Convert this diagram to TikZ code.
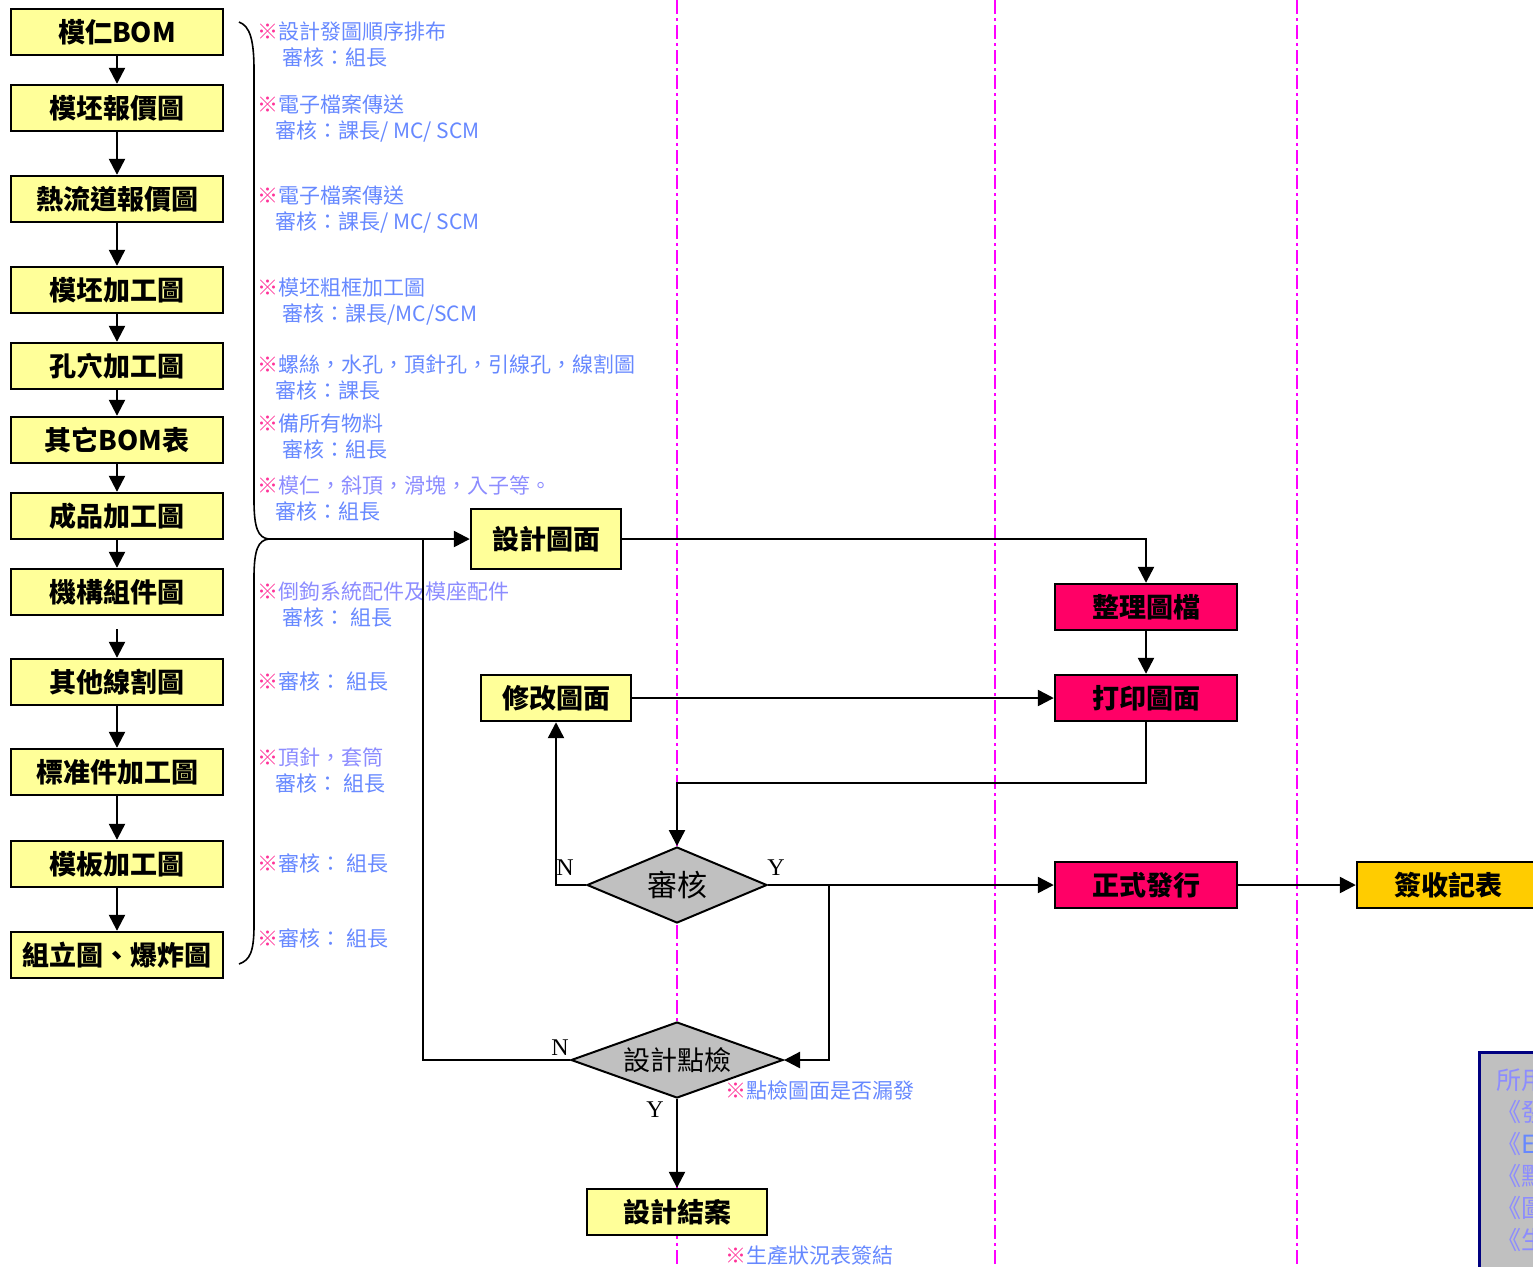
\documentclass[tikz,border=0pt]{standalone}
\usepackage{fontspec}
\setmainfont{Noto Sans CJK TC}
\newfontfamily\ynfont{Liberation Serif}
\usetikzlibrary{arrows.meta,shapes.geometric}
\definecolor{boxyellow}{RGB}{255,255,153}
\definecolor{boxred}{RGB}{255,0,102}
\definecolor{boxgold}{RGB}{255,204,0}
\definecolor{markpink}{RGB}{255,51,153}
\definecolor{noteblue}{RGB}{102,136,255}
\definecolor{notepurple}{RGB}{140,140,255}
\definecolor{lanepink}{RGB}{255,0,255}
\definecolor{formgray}{RGB}{192,192,192}
\definecolor{formnavy}{RGB}{0,0,128}
\newcommand{\mk}{{\color{markpink}※}}
\tikzstyle{listbox}=[draw,line width=1.2pt,fill=boxyellow,minimum width=106pt,minimum height=23pt,inner sep=0pt,font=\bfseries\fontsize{13.5}{15}\selectfont]
\tikzstyle{stagebox}=[listbox,minimum width=75pt]
\tikzstyle{hotbox}=[listbox,fill=boxred,minimum width=91pt]
\tikzstyle{decision}=[diamond,draw,line width=1pt,fill=formgray,inner sep=0pt,aspect=2.37,minimum width=90pt,minimum height=38pt,font=\fontsize{15}{16}\selectfont]
\tikzstyle{note}=[anchor=west,inner sep=0pt,align=left,text=noteblue,font=\fontsize{10.5}{13}\selectfont]
\tikzstyle{lane}=[lanepink,line width=1pt,dash pattern=on 7pt off 2pt on 1.5pt off 2pt]
\tikzstyle{flow}=[line width=1.2pt,-{Triangle[length=8pt,width=8pt]}]
\tikzstyle{link}=[line width=1.2pt]
\tikzstyle{yn}=[inner sep=0pt,font=\ynfont\fontsize{12}{12}\selectfont]

\begin{document}
\begin{tikzpicture}[x=0.5pt,y=-0.5pt]
        \useasboundingbox (0,0) rectangle (1533,1266);
        % swim lanes
        \foreach \lx in {677,995,1297} \draw[lane] (\lx,0) -- (\lx,1266);

        % drawing list
        \node[listbox] (bom) at (117,32) {模仁BOM};
        \node[listbox] (blankquote) at (117,108) {模坯報價圖};
        \node[listbox] (hrquote) at (117,199) {熱流道報價圖};
        \node[listbox] (blankmach) at (117,290) {模坯加工圖};
        \node[listbox] (holemach) at (117,366) {孔穴加工圖};
        \node[listbox] (otherbom) at (117,440) {其它BOM表};
        \node[listbox] (partmach) at (117,516) {成品加工圖};
        \node[listbox] (mechasm) at (117,592) {機構組件圖};
        \node[listbox] (wirecut) at (117,682) {其他線割圖};
        \node[listbox] (stdmach) at (117,772) {標准件加工圖};
        \node[listbox] (platemach) at (117,864) {模板加工圖};
        \node[listbox] (assy) at (117,955) {組立圖、爆炸圖};
        \coordinate (gapstart) at (117,629);
        \draw[flow] (bom) -- (blankquote);
        \draw[flow] (blankquote) -- (hrquote);
        \draw[flow] (hrquote) -- (blankmach);
        \draw[flow] (blankmach) -- (holemach);
        \draw[flow] (holemach) -- (otherbom);
        \draw[flow] (otherbom) -- (partmach);
        \draw[flow] (partmach) -- (mechasm);
        \draw[flow] (gapstart) -- (wirecut);
        \draw[flow] (wirecut) -- (stdmach);
        \draw[flow] (stdmach) -- (platemach);
        \draw[flow] (platemach) -- (assy);

        % notes
        \node[note] (n1) at (257,44) {\mk 設計發圖順序排布\\\hspace*{12.5pt}審核：組長};
        \node[note] (n2) at (257,119) {\mk 電子檔案傳送\\\hspace*{9pt}審核：課長/ MC/ SCM};
        \node[note] (n3) at (257,210) {\mk 電子檔案傳送\\\hspace*{9pt}審核：課長/ MC/ SCM};
        \node[note] (n4) at (257,302) {\mk 模坯粗框加工圖\\\hspace*{12.5pt}審核：課長/MC/SCM};
        \node[note] (n5) at (257,377) {\mk 螺絲，水孔，頂針孔，引線孔，線割圖\\\hspace*{9pt}審核：課長};
        \node[note] (n6) at (257,437) {\mk 備所有物料\\\hspace*{12.5pt}審核：組長};
        \node[note,text=notepurple] (n7) at (257,498) {\mk 模仁，斜頂，滑塊，入子等。\\\hspace*{9pt}{\color{noteblue}審核：組長}};
        \node[note,text=notepurple] (n8) at (257,604) {\mk 倒鉤系統配件及模座配件\\\hspace*{12.5pt}{\color{noteblue}審核： 組長}};
        \node[note] (n9) at (257,681) {\mk 審核： 組長};
        \node[note] (n10) at (257,770) {\mk {\color{notepurple}頂針，套筒}\\\hspace*{9pt}審核： 組長};
        \node[note] (n11) at (257,863) {\mk 審核： 組長};
        \node[note] (n12) at (257,938) {\mk 審核： 組長};
        \node[note] (n13) at (725,1090) {\mk 點檢圖面是否漏發};
        \node[note] (n14) at (725,1256) {\mk 生產狀況表簽結};

        % brace
        \draw[line width=0.8pt] (239,22) .. controls (250,26) and (254,40) .. (254,70) -- (254,500)
              .. controls (254,528) and (258,538) .. (269,539)
              .. controls (258,540) and (254,550) .. (254,578) -- (254,925)
              .. controls (254,952) and (250,960) .. (239,964);
        \coordinate (bracetip) at (269,539);
        \coordinate (loopjoin) at (423,539);
        \coordinate (ysplit) at (829,885);

        % process
        \node[stagebox,minimum height=30pt] (design) at (546,539) {設計圖面};
        \node[hotbox] (sortfile) at (1146,607) {整理圖檔};
        \node[hotbox] (printdwg) at (1146,698) {打印圖面};
        \node[stagebox] (revise) at (556,698) {修改圖面};
        \node[decision] (review) at (677,885) {審核};
        \node[hotbox] (release) at (1146,885) {正式發行};
        \node[listbox,fill=boxgold,minimum width=91pt] (signoff) at (1448,885) {簽收記表};
        \node[decision,aspect=2.79,minimum width=106pt,font=\fontsize{13.5}{15}\selectfont] (check) at (677,1060) {設計點檢};
        \node[stagebox,minimum width=90pt] (closed) at (677,1212) {設計結案};

        \draw[flow] (bracetip) -- (design);
        \draw[flow] (design) -| (sortfile);
        \draw[flow] (sortfile) -- (printdwg);
        \draw[flow] (revise) -- (printdwg);
        \draw[flow] (printdwg.south) -- ++(0,61) -| (review.north);
        \draw[flow] (review.west) -| (revise.south);
        \draw[flow] (review) -- (release);
        \draw[flow] (ysplit) |- (check.east);
        \draw[flow] (release) -- (signoff);
        \draw[flow] (check) -- (closed);
        \draw[link] (check.west) -| (loopjoin);

        \node[yn] (rn) at (565,868) {N};
        \node[yn] (ry) at (776,868) {Y};
        \node[yn] (cn) at (560,1048) {N};
        \node[yn] (cy) at (655,1110) {Y};

        % forms
        \draw[formnavy,line width=1.5pt,fill=formgray] (1479,1052) rectangle (1640,1300);
        \node[anchor=north west,inner sep=0pt,align=left,text=notepurple,font=\fontsize{12.5}{16}\selectfont] (forms) at (1496,1068)
              {所用表單：\\《發圖記錄表》\\《{\color{noteblue}ECN}》\\《點檢表》\\《圖面清單》\\《生產狀況表》};
\end{tikzpicture}
\end{document}
